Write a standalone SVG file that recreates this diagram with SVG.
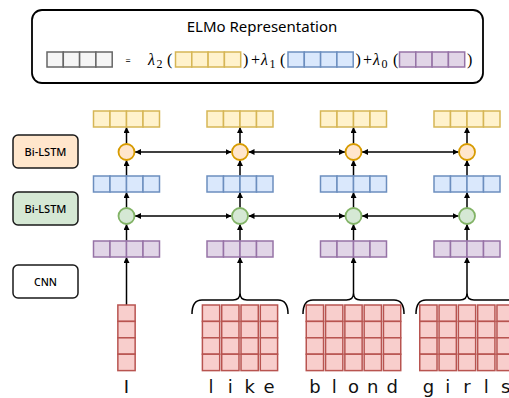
<svg xmlns="http://www.w3.org/2000/svg" width="509" height="398" viewBox="0 0 509 398">
<style>
.sans{font-family:"Noto Sans","DejaVu Sans",sans-serif;fill:#000;font-weight:500}
.title{font-family:"Noto Sans","DejaVu Sans",sans-serif;fill:#000;font-weight:400}
.word{font-family:"DejaVu Sans","Noto Sans",sans-serif;fill:#111}
.math{font-family:"Liberation Serif","DejaVu Serif",serif;fill:#000}
.lbl{stroke:#1a1a1a;stroke-width:1.5}
.y{fill:#fff2cc;stroke:#d6b656;stroke-width:1.5}
.b{fill:#dae8fc;stroke:#6c8ebf;stroke-width:1.5}
.p{fill:#e1d5e7;stroke:#9673a6;stroke-width:1.5}
.g{fill:#f5f5f5;stroke:#666666;stroke-width:1.5}
.r{fill:#f8cecc;stroke:#b85450;stroke-width:1.5}
.oc{fill:#ffe6cc;stroke:#d79b00;stroke-width:1.8}
.gc{fill:#d5e8d4;stroke:#82b366;stroke-width:1.8}
.ar{fill:none;stroke:#000;stroke-width:1.5}
.br{fill:none;stroke:#000;stroke-width:1.5}
.w{font-size:18px;text-anchor:middle}
</style>
<defs>
<marker id="ah" viewBox="0 0 10 10" refX="10" refY="5" markerWidth="6" markerHeight="6" markerUnits="userSpaceOnUse" orient="auto-start-reverse">
<path d="M0,0 L10,5 L0,10 z" fill="#000"/>
</marker>
<g id="row4">
<rect x="0" y="0" width="16.5" height="16"/>
<rect x="16.5" y="0" width="16.5" height="16"/>
<rect x="33" y="0" width="16.5" height="16"/>
<rect x="49.5" y="0" width="16.5" height="16"/>
</g>
<g id="row4s">
<rect x="0" y="0" width="16.3" height="15"/>
<rect x="16.3" y="0" width="16.3" height="15"/>
<rect x="32.6" y="0" width="16.3" height="15"/>
<rect x="48.9" y="0" width="16.3" height="15"/>
</g>
<g id="char">
<rect x="-8.65" y="0" width="17.3" height="16.4"/>
<rect x="-8.65" y="16.4" width="17.3" height="16.4"/>
<rect x="-8.65" y="32.8" width="17.3" height="16.4"/>
<rect x="-8.65" y="49.2" width="17.3" height="16.4"/>
</g>
</defs>

<g id="elmo-box">
<rect x="32" y="10" width="451" height="73" rx="10" fill="#fff" stroke="#000" stroke-width="1.8"/>
<text class="title" x="262" y="32" font-size="15" text-anchor="middle">ELMo Representation</text>
<use href="#row4s" x="47" y="52" class="g"/>
<text class="sans" x="128" y="63.5" font-size="9" text-anchor="middle">=</text>
<text class="math" x="148" y="65" font-size="16" font-style="italic">λ</text>
<text class="math" x="156.5" y="68" font-size="12">2</text>
<text class="math" x="167" y="65" font-size="16">(</text>
<use href="#row4s" x="175.5" y="52" class="y"/>
<text class="math" x="243" y="65" font-size="16">)</text>
<text class="math" x="251" y="65" font-size="16">+</text>
<text class="math" x="261" y="65" font-size="16" font-style="italic">λ</text>
<text class="math" x="269.5" y="68" font-size="12">1</text>
<text class="math" x="280" y="65" font-size="16">(</text>
<use href="#row4s" x="288" y="52" class="b"/>
<text class="math" x="355.5" y="65" font-size="16">)</text>
<text class="math" x="363" y="65" font-size="16">+</text>
<text class="math" x="373" y="65" font-size="16" font-style="italic">λ</text>
<text class="math" x="381.5" y="68" font-size="12">0</text>
<text class="math" x="393" y="65" font-size="16">(</text>
<use href="#row4s" x="399.5" y="52" class="p"/>
<text class="math" x="467" y="65" font-size="16">)</text>
</g>

<g id="label-bilstm-2">
<rect x="13" y="135" width="65" height="33" rx="5" fill="#ffe6cc" class="lbl"/>
<text class="sans" x="45.5" y="155.5" font-size="11" text-anchor="middle">Bi-LSTM</text>
</g>
<g id="label-bilstm-1">
<rect x="13" y="192" width="65" height="33" rx="5" fill="#d5e8d4" class="lbl"/>
<text class="sans" x="45.5" y="212.5" font-size="11" text-anchor="middle">Bi-LSTM</text>
</g>
<g id="label-cnn">
<rect x="13" y="265" width="65" height="33" rx="5" fill="#ffffff" class="lbl"/>
<text class="sans" x="45.5" y="285.5" font-size="10.5" text-anchor="middle">CNN</text>
</g>

<g id="connectors">
<g class="ar" marker-end="url(#ah)">
<line x1="126.5" y1="144" x2="126.5" y2="127"/>
<line x1="126.5" y1="176" x2="126.5" y2="160"/>
<line x1="126.5" y1="208" x2="126.5" y2="192"/>
<line x1="126.5" y1="241" x2="126.5" y2="224"/>
<line x1="126.5" y1="305" x2="126.5" y2="257"/>
<line x1="240" y1="144" x2="240" y2="127"/>
<line x1="240" y1="176" x2="240" y2="160"/>
<line x1="240" y1="208" x2="240" y2="192"/>
<line x1="240" y1="241" x2="240" y2="224"/>
<line x1="240" y1="293" x2="240" y2="257"/>
<line x1="353.5" y1="144" x2="353.5" y2="127"/>
<line x1="353.5" y1="176" x2="353.5" y2="160"/>
<line x1="353.5" y1="208" x2="353.5" y2="192"/>
<line x1="353.5" y1="241" x2="353.5" y2="224"/>
<line x1="353.5" y1="293" x2="353.5" y2="257"/>
<line x1="467" y1="144" x2="467" y2="127"/>
<line x1="467" y1="176" x2="467" y2="160"/>
<line x1="467" y1="208" x2="467" y2="192"/>
<line x1="467" y1="241" x2="467" y2="224"/>
<line x1="467" y1="293" x2="467" y2="257"/>
</g>
<g class="ar" marker-start="url(#ah)" marker-end="url(#ah)">
<line x1="135" y1="152" x2="231.5" y2="152"/>
<line x1="248.5" y1="152" x2="345" y2="152"/>
<line x1="362" y1="152" x2="458.5" y2="152"/>
<line x1="135" y1="216" x2="231.5" y2="216"/>
<line x1="248.5" y1="216" x2="345" y2="216"/>
<line x1="362" y1="216" x2="458.5" y2="216"/>
</g>
<path class="br" d="M192,314 Q192,300 202,300 H233 Q240,300 240,293 Q240,300 247,300 H278 Q288,300 288,314"/>
<path class="br" d="M303,314 Q303,300 313,300 H346.5 Q353.5,300 353.5,293 Q353.5,300 360.5,300 H394 Q404,300 404,314"/>
<path class="br" d="M416,314 Q416,300 426,300 H460 Q467,300 467,293 Q467,300 474,300 H508 Q518,300 518,314"/>
</g>

<g id="col-1">
<use href="#row4" x="93.5" y="111" class="y"/>
<circle cx="126.5" cy="152" r="8" class="oc"/>
<use href="#row4" x="93.5" y="176" class="b"/>
<circle cx="126.5" cy="216" r="8" class="gc"/>
<use href="#row4" x="93.5" y="241" class="p"/>
</g>
<g id="col-2">
<use href="#row4" x="207" y="111" class="y"/>
<circle cx="240" cy="152" r="8" class="oc"/>
<use href="#row4" x="207" y="176" class="b"/>
<circle cx="240" cy="216" r="8" class="gc"/>
<use href="#row4" x="207" y="241" class="p"/>
</g>
<g id="col-3">
<use href="#row4" x="320.5" y="111" class="y"/>
<circle cx="353.5" cy="152" r="8" class="oc"/>
<use href="#row4" x="320.5" y="176" class="b"/>
<circle cx="353.5" cy="216" r="8" class="gc"/>
<use href="#row4" x="320.5" y="241" class="p"/>
</g>
<g id="col-4">
<use href="#row4" x="434" y="111" class="y"/>
<circle cx="467" cy="152" r="8" class="oc"/>
<use href="#row4" x="434" y="176" class="b"/>
<circle cx="467" cy="216" r="8" class="gc"/>
<use href="#row4" x="434" y="241" class="p"/>
</g>

<g id="word-I">
<use href="#char" x="126.5" y="305" class="r"/>
<text class="word w" x="126.5" y="393">I</text>
</g>
<g id="word-like">
<use href="#char" x="211.05" y="305" class="r"/>
<use href="#char" x="230.35" y="305" class="r"/>
<use href="#char" x="249.65" y="305" class="r"/>
<use href="#char" x="268.95" y="305" class="r"/>
<text class="word w" x="211.05" y="393">l</text>
<text class="word w" x="230.35" y="393">i</text>
<text class="word w" x="249.65" y="393">k</text>
<text class="word w" x="268.95" y="393">e</text>
</g>
<g id="word-blond">
<use href="#char" x="314.9" y="305" class="r"/>
<use href="#char" x="334.2" y="305" class="r"/>
<use href="#char" x="353.5" y="305" class="r"/>
<use href="#char" x="372.8" y="305" class="r"/>
<use href="#char" x="392.1" y="305" class="r"/>
<text class="word w" x="314.9" y="393">b</text>
<text class="word w" x="334.2" y="393">l</text>
<text class="word w" x="353.5" y="393">o</text>
<text class="word w" x="372.8" y="393">n</text>
<text class="word w" x="392.1" y="393">d</text>
</g>
<g id="word-girls">
<use href="#char" x="428.4" y="305" class="r"/>
<use href="#char" x="447.7" y="305" class="r"/>
<use href="#char" x="467" y="305" class="r"/>
<use href="#char" x="486.3" y="305" class="r"/>
<use href="#char" x="505.6" y="305" class="r"/>
<text class="word w" x="428.4" y="393">g</text>
<text class="word w" x="447.7" y="393">i</text>
<text class="word w" x="467" y="393">r</text>
<text class="word w" x="486.3" y="393">l</text>
<text class="word w" x="505.6" y="393">s</text>
</g>
</svg>
